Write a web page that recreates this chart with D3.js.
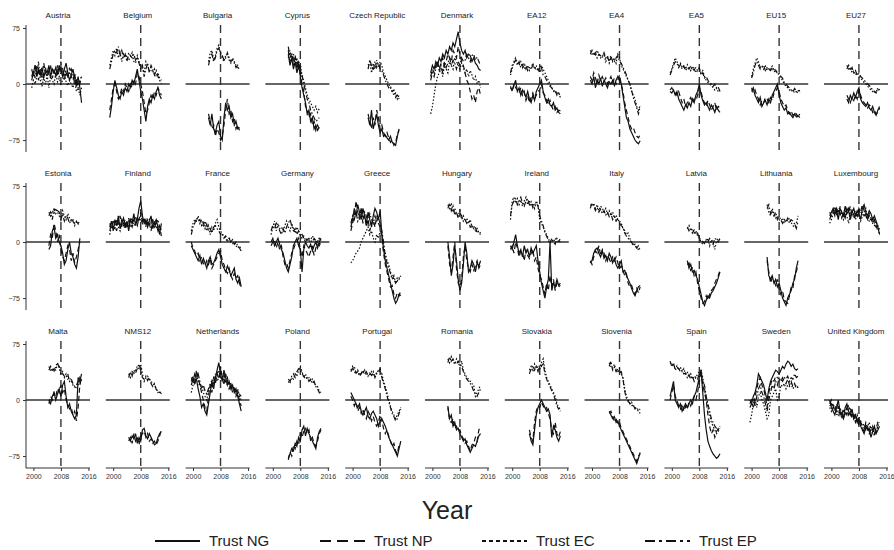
<!DOCTYPE html>
<html>
<head>
<meta charset="utf-8">
<script src="https://cdn.jsdelivr.net/npm/d3@7"></script>
<style>
  body { margin: 0; background: #fff; }
  svg { display: block; font-family: "Liberation Sans", Arial, sans-serif; }
</style>
</head>
<body>
<div id="chart-area"></div>
<script>
// panels, row by row
var countries = ["Austria", "Belgium", "Bulgaria", "Cyprus", "Czech Republic", "Denmark", "EA12", "EA4", "EA5", "EU15", "EU27",
  "Estonia", "Finland", "France", "Germany", "Greece", "Hungary", "Ireland", "Italy", "Latvia", "Lithuania", "Luxembourg",
  "Malta", "NMS12", "Netherlands", "Poland", "Portugal", "Romania", "Slovakia", "Slovenia", "Spain", "Sweden", "United Kingdom"];

// first observation of each panel, half-year steps after that
var startYear = [1999.5, 1999, 2004.5, 2004.5, 2004.5, 1999.5, 1999.5, 1999.5, 1999.5, 2000, 2004.5,
  2004.5, 1999, 1999.5, 1999.5, 1999.5, 2004.5, 1999.5, 1999.5, 2004.5, 2004.5, 1999.5,
  2004.5, 2004.5, 1999.5, 2004.5, 1999.5, 2004.5, 2005, 2005, 1999.5, 1999.5, 1999.5];

var trustNG = [
  [5,15,25,10,20,12,22,8,18,15,25,10,20,15,22,12,25,18,10,20,28,15,5,12,20,8,0,10,-5,-25],
  [-45,-30,-10,5,-5,-15,-20,-10,-15,-5,-10,0,-5,5,0,10,20,5,-10,-20,-35,-50,-30,-20,-25,-15,-20,-10,-5,-15,-20],
  [-45,-55,-40,-60,-65,-55,-50,-70,-75,-45,-25,-35,-30,-45,-40,-55,-50,-60,-58],
  [40,25,35,20,30,15,25,10,-5,-15,-25,-40,-35,-50,-45,-60,-55,-62,-58],
  [-45,-55,-35,-60,-50,-40,-55,-65,-60,-70,-68,-72,-75,-70,-78,-80,-82,-70,-60],
  [15,25,20,30,25,35,30,40,35,45,40,50,45,55,50,60,70,55,45,40,45,35,40,38,30,35,28,25,20,18],
  [-5,-8,-2,5,-10,-5,-15,-8,-12,-18,-10,-20,-25,-15,-22,-10,-5,0,5,-10,-18,-25,-20,-28,-30,-25,-35,-32,-38,-40],
  [5,0,10,-5,5,0,8,-3,5,0,-5,3,0,5,-2,5,10,5,0,-15,-30,-45,-50,-60,-65,-70,-75,-78,-80,-76],
  [-10,-12,-8,-15,-10,-20,-25,-30,-35,-28,-32,-25,-30,-20,-25,-15,-10,0,-15,-22,-28,-25,-30,-35,-28,-32,-38,-30,-35,-38],
  [-10,-5,-15,-20,-25,-18,-30,-25,-22,-28,-20,-25,-15,-10,-5,0,-15,-25,-30,-35,-32,-40,-38,-42,-45,-40,-44,-42,-45],
  [-20,-25,-15,-20,-12,-18,-10,-5,-20,-25,-28,-30,-25,-32,-35,-30,-38,-42,-35,-30],
  [-10,-5,15,20,5,10,0,-5,-15,-30,-25,-10,0,-15,-20,-30,-35,-20,5],
  [20,28,15,30,22,35,18,25,32,20,28,15,30,25,38,22,30,45,55,35,25,30,20,28,35,18,25,30,20,10,25],
  [-5,-10,-15,-20,-25,-18,-30,-22,-28,-35,-25,-20,-30,-28,-22,-15,-10,-20,-30,-35,-40,-32,-38,-45,-40,-35,-50,-55,-48,-60],
  [0,5,-5,0,5,-3,-10,-15,-25,-35,-40,-30,-20,-5,0,5,-5,-10,-40,-10,0,-5,-8,-3,-12,-5,0,-8,0,5],
  [20,30,45,35,50,40,30,45,35,25,40,30,20,35,45,40,30,42,10,-10,-25,-35,-45,-55,-65,-75,-82,-78,-70,-72],
  [0,-20,-45,-30,-5,-25,-50,-65,-55,-30,0,-15,-40,-35,-25,-30,-40,-28,-32,-25],
  [-5,-10,0,10,-5,-15,-10,-20,-5,-15,-10,-20,-8,-15,-10,-5,-25,-40,-55,-65,-75,-60,-50,0,-65,-55,-60,-50,-58,-55],
  [-28,-25,-15,-10,-8,-15,-20,-12,-22,-18,-25,-15,-20,-28,-22,-30,-35,-30,-25,-40,-38,-45,-50,-55,-62,-68,-72,-65,-60,-58],
  [-25,-35,-30,-40,-38,-45,-50,-60,-70,-80,-85,-78,-72,-75,-68,-65,-60,-55,-48,-40],
  [-20,-45,-50,-45,-55,-50,-60,-55,-65,-75,-80,-85,-75,-70,-65,-55,-50,-35,-25],
  [35,40,45,38,42,30,45,40,35,48,38,42,30,40,45,35,42,38,30,45,50,40,35,42,38,30,35,28,20,10],
  [0,-5,5,10,0,8,15,5,20,25,5,-10,-5,-15,-20,-25,-20,30,25,35],
  [-50,-55,-48,-52,-45,-58,-50,-55,-40,-38,-48,-52,-45,-50,-55,-60,-58,-50,-45,-42],
  [30,25,35,28,15,5,-10,-5,-15,-20,-5,10,25,15,30,40,50,35,25,40,30,20,25,15,20,10,15,5,-5,-15],
  [-78,-72,-65,-68,-58,-62,-50,-55,-40,-35,-48,-38,-45,-50,-55,-60,-65,-50,-42,-38],
  [10,5,0,-5,-10,-5,-15,-20,-15,-10,-22,-25,-18,-15,-20,-25,-35,-28,-25,-30,-35,-42,-50,-55,-60,-65,-70,-75,-65,-55],
  [-10,-25,-20,-35,-30,-40,-38,-45,-50,-55,-52,-60,-65,-70,-65,-60,-62,-55,-48,-45],
  [-45,-55,-60,-40,-20,-10,-5,0,-5,-10,-15,-12,-20,-50,-35,-40,-50,-55,-48],
  [-15,-20,-25,-22,-30,-28,-35,-40,-45,-50,-55,-60,-65,-70,-75,-80,-85,-78,-70],
  [5,15,25,0,-5,-10,-5,-15,-10,-5,-10,-5,0,-5,5,10,20,30,40,10,-20,-40,-55,-62,-68,-72,-75,-78,-76,-72],
  [0,-5,5,10,20,35,30,25,20,10,0,15,25,30,35,40,38,35,40,45,42,48,52,50,45,48,42,40,42],
  [0,-10,-15,-20,-10,0,-15,-20,-25,-10,-5,-15,-20,-12,-25,-20,-30,-25,-35,-40,-45,-35,-40,-38,-50,-42,-35,-45,-40,-35]
];

var trustNP = [
  [20,10,25,15,5,20,12,28,15,10,18,8,22,15,10,25,18,30,12,20,15,8,22,10,5,15,-5,5,0,10],
  [-35,-20,-5,0,-10,-20,-15,-5,-10,0,-5,-10,0,-5,5,0,15,10,0,-10,-25,-40,-35,-25,-15,-20,-10,-15,-5,-10,-15],
  [-40,-50,-60,-55,-70,-60,-65,-75,-70,-55,-35,-20,-40,-35,-50,-45,-60,-55,-62],
  [45,30,38,25,35,20,30,15,0,-10,-30,-35,-45,-40,-55,-50,-62,-55,-60],
  [-40,-50,-60,-45,-55,-35,-45,-60,-55,-65,-70,-65,-72,-78,-75,-82,-78,-68,-62],
  [10,20,15,25,30,20,28,35,25,30,40,35,30,45,40,35,50,40,30,25,15,5,0,-10,-20,-15,-25,-10,-5,-15],
  [-3,-10,0,-5,-8,-12,-5,-15,-10,-22,-15,-25,-18,-12,-20,-15,-10,-8,0,-12,-15,-22,-28,-22,-30,-35,-30,-38,-35,-36],
  [10,5,15,8,0,12,5,10,3,8,0,5,10,2,8,0,5,12,0,-10,-25,-35,-45,-55,-60,-58,-65,-70,-72,-68],
  [-8,-5,-10,-12,-15,-10,-18,-25,-20,-30,-25,-22,-18,-25,-20,-22,-15,-5,-10,-20,-25,-30,-22,-28,-35,-30,-25,-35,-30,-32],
  [-5,-12,-8,-15,-20,-28,-22,-25,-18,-20,-25,-18,-22,-12,-10,-5,-10,-20,-25,-30,-28,-35,-40,-36,-42,-38,-40,-45,-40],
  [-15,-20,-25,-18,-22,-15,-20,-8,-15,-22,-25,-28,-32,-28,-30,-38,-35,-40,-38,-32],
  [-5,10,5,25,15,0,10,-10,-20,-25,-15,-5,-10,-25,-15,-28,-20,-10,0],
  [25,18,30,22,15,28,35,20,25,30,18,32,25,20,28,35,25,30,40,28,32,22,30,25,15,28,20,25,15,22,8],
  [0,-8,-12,-18,-15,-25,-20,-28,-32,-25,-30,-22,-35,-30,-25,-20,-15,-12,-25,-30,-38,-42,-35,-45,-50,-42,-48,-45,-55,-62],
  [-5,0,3,-8,0,-10,-5,-20,-30,-28,-35,-25,-15,-10,-3,0,5,-10,-20,-5,-10,-15,-20,-12,-5,-18,-8,-3,-5,0],
  [15,25,35,55,40,30,45,25,35,20,30,15,25,30,20,35,25,20,5,-15,-30,-40,-50,-60,-58,-70,-75,-68,-72,-65],
  [-5,-30,-40,-20,0,-35,-55,-60,-50,-20,-5,-25,-35,-40,-30,-38,-32,-25,-35,-30],
  [-10,-5,-15,0,-8,-20,-12,-15,-25,-10,-18,-22,-15,-10,-25,-20,-35,-45,-50,-60,-70,-55,-65,-45,-60,-50,-65,-55,-60,-58],
  [-25,-30,-20,-12,-15,-5,-18,-10,-15,-25,-18,-22,-28,-20,-25,-20,-28,-35,-32,-38,-45,-42,-55,-60,-58,-65,-70,-62,-68,-60],
  [-30,-28,-38,-35,-45,-40,-55,-65,-75,-82,-80,-72,-78,-70,-65,-62,-55,-50,-45,-38],
  [-25,-40,-55,-48,-52,-58,-50,-62,-70,-65,-78,-80,-82,-72,-60,-62,-45,-40,-30],
  [40,35,42,48,36,45,38,32,40,35,45,40,48,35,38,42,35,45,40,50,42,35,30,38,32,25,30,22,15,12],
  [-5,5,0,10,5,15,10,20,10,15,0,-5,-12,-10,-20,-15,-28,-10,20,30],
  [-55,-50,-58,-45,-55,-50,-60,-48,-45,-42,-50,-45,-55,-52,-58,-55,-60,-55,-48,-40],
  [25,32,20,40,30,20,10,0,-10,-15,5,20,10,30,22,35,28,45,30,20,35,25,15,20,10,15,5,10,0,-8],
  [-80,-70,-75,-60,-65,-55,-60,-45,-50,-42,-38,-45,-40,-55,-50,-58,-62,-55,-45,-40],
  [5,0,-8,-3,-15,-10,-18,-12,-20,-25,-15,-20,-28,-22,-30,-35,-30,-20,-28,-38,-45,-40,-48,-55,-62,-58,-68,-72,-60,-58],
  [-8,-28,-30,-25,-38,-35,-42,-40,-48,-52,-58,-55,-62,-68,-60,-58,-50,-55,-40,-35],
  [-40,-50,-55,-30,-15,-8,-10,-3,-8,-12,-10,-18,-25,-40,-45,-30,-45,-50,-42],
  [-18,-15,-22,-28,-25,-32,-30,-38,-42,-48,-52,-58,-62,-68,-72,-78,-82,-75,-72],
  [0,10,20,5,0,-8,-12,-5,-15,-8,-12,-3,-8,0,5,0,10,25,35,20,10,0,-20,-35,-45,-40,-50,-42,-38,-40],
  [-5,0,-10,5,15,25,30,20,15,5,-10,10,20,28,25,32,30,28,25,30,25,22,28,20,25,18,22,15,18],
  [-5,0,-8,-15,-5,-10,-20,-15,-25,-18,-10,-20,-15,-25,-20,-30,-25,-35,-30,-38,-42,-30,-35,-45,-40,-35,-45,-38,-30,-32]
];

var trustEC = [
  [-5,5,0,10,30,5,-3,8,0,12,-5,10,5,0,15,3,8,0,5,12,3,-2,5,0,-5,5,-10,-5,-15,-5],
  [25,35,45,38,48,35,42,30,40,35,38,32,36,42,30,28,38,30,25,20,15,30,25,18,22,15,20,10,15,8,5],
  [30,42,45,32,38,48,52,40,35,30,38,40,32,28,35,30,25,22,20],
  [35,45,30,40,25,35,20,28,10,5,-5,-15,-20,-25,-30,-35,-30,-38,-33],
  [25,30,15,28,20,32,22,30,25,15,10,5,0,-5,-10,-15,-12,-20,-15],
  [-40,-30,-15,0,10,15,20,10,25,20,15,30,25,20,35,30,25,20,28,22,15,20,10,18,12,5,10,0,5,-5],
  [12,20,30,35,28,25,30,22,28,20,25,18,22,28,20,25,18,22,25,20,15,10,5,0,-5,-8,-12,-10,-15,-12],
  [45,40,42,38,45,40,35,38,40,30,35,32,38,30,35,28,40,35,25,20,15,10,5,0,-10,-15,-20,-30,-35,-28],
  [15,20,28,35,30,25,28,22,25,20,26,22,18,24,20,22,18,20,15,18,10,5,2,0,-2,-5,-8,-5,-10,-8],
  [10,20,28,35,30,22,25,20,24,18,22,20,24,18,20,15,12,8,5,0,-3,-5,-8,-10,-8,-12,-10,-8,-12],
  [25,20,22,15,18,12,15,10,8,5,2,0,-3,-5,-8,-10,-12,-8,-10,-6],
  [40,35,42,38,45,40,35,30,42,35,30,38,32,28,30,25,28,24,26],
  [10,22,18,25,30,20,15,28,22,18,25,20,28,32,22,25,30,28,35,30,25,28,22,30,25,20,28,18,22,15,18],
  [15,25,30,28,35,25,30,20,28,15,22,10,20,15,25,30,20,15,10,8,5,0,5,3,-2,0,-5,-8,-5,-10],
  [10,20,28,15,25,18,20,15,22,28,20,15,25,18,12,20,15,10,5,8,2,5,0,3,8,5,0,3,-2,2],
  [-28,-25,-20,-15,-12,-8,0,5,10,15,20,10,15,5,0,10,5,15,10,-5,-15,-25,-30,-40,-45,-50,-55,-48,-50,-45],
  [50,45,52,40,45,38,35,42,30,35,28,32,25,30,20,22,15,18,12,10],
  [30,55,60,52,58,50,56,48,55,60,50,55,48,52,45,55,50,30,25,20,15,10,5,0,3,0,5,2,0,5],
  [50,48,52,45,50,42,48,45,40,45,38,42,35,40,32,36,30,28,25,18,15,10,12,5,0,-2,-5,-8,-10,-8],
  [18,22,15,18,12,15,8,5,0,-3,2,0,5,-5,3,0,-10,2,5,3],
  [50,40,35,45,38,32,35,30,28,32,25,30,28,32,26,22,20,25,35],
  [25,30,38,42,35,40,48,35,30,42,35,25,38,42,35,30,40,35,28,35,40,45,32,28,30,25,22,28,20,18],
  [45,40,42,38,45,50,42,35,38,30,35,28,30,25,20,18,15,20,30,25],
  [35,30,38,35,40,45,42,48,35,25,30,32,28,25,22,20,15,12,10,12],
  [10,20,28,35,25,18,20,10,5,0,12,18,28,20,35,25,30,38,32,25,28,20,22,15,18,12,8,15,5,0],
  [25,22,30,28,35,32,40,45,38,30,35,28,30,25,28,22,20,18,12,10],
  [40,45,38,35,40,33,38,35,40,33,36,34,38,32,36,35,40,38,35,25,18,10,0,-8,-15,-20,-25,-20,-15,-10],
  [55,50,58,52,48,55,50,45,52,40,35,30,28,25,22,20,5,10,15,20],
  [40,45,38,48,42,45,40,50,55,40,30,25,20,15,10,5,-5,-10,-15],
  [50,45,42,48,40,38,42,35,30,15,5,0,-5,-3,-8,-10,-12,-15,-18],
  [50,48,45,42,46,40,44,38,42,35,38,30,35,28,32,30,35,38,40,30,15,0,-10,-20,-30,-35,-40,-45,-42,-38],
  [-30,-20,-5,0,-10,5,10,0,-5,-15,-25,-20,0,5,10,15,0,5,20,18,22,15,20,18,22,15,18,20,16],
  [-10,-15,-5,-12,-20,-8,-12,-25,-15,-20,-12,-8,-15,-22,-18,-28,-20,-30,-28,-35,-32,-40,-35,-30,-40,-45,-38,-42,-35,-30]
];

var trustEP = [
  [10,18,8,25,15,20,5,15,22,10,15,25,8,18,12,20,10,15,22,5,18,10,15,20,12,0,5,-5,5,10],
  [20,30,40,45,42,50,38,45,35,40,30,42,38,35,40,32,35,28,20,25,10,20,28,15,25,20,12,18,10,5,0],
  [25,35,40,30,35,45,48,42,38,32,35,42,35,30,32,28,22,25,18],
  [50,35,42,30,38,25,32,20,12,0,-10,-20,-25,-35,-40,-45,-50,-48,-45],
  [20,32,25,18,30,22,28,20,18,12,5,0,-5,-3,-10,-8,-18,-15,-20],
  [5,15,10,20,28,18,25,15,30,22,28,35,25,32,28,20,30,25,35,30,32,40,35,30,38,40,32,36,30,25],
  [15,25,28,32,25,30,22,26,20,24,18,22,20,25,22,18,20,15,22,12,10,5,0,-3,-5,-10,-8,-15,-12,-18],
  [40,45,38,42,35,40,38,35,42,35,38,28,35,32,30,35,38,30,28,22,18,12,5,0,-8,-18,-25,-32,-40,-30],
  [12,18,25,30,28,22,26,20,24,18,22,20,24,18,20,15,18,22,12,15,8,10,5,2,0,-3,0,-6,-4,-10],
  [8,15,25,30,25,20,22,25,18,22,20,18,22,16,18,14,15,10,8,2,0,-3,-5,-8,-10,-6,-10,-12,-8],
  [20,25,18,22,15,18,12,15,10,8,5,3,0,-2,-5,-8,-10,-12,-5,-8],
  [35,40,30,45,38,42,40,30,38,28,35,32,25,30,28,22,27,25,28],
  [15,25,20,18,28,25,22,30,20,25,22,28,20,25,30,28,22,32,30,25,32,20,26,22,28,30,22,26,30,20,15],
  [10,20,25,32,28,30,22,26,18,24,15,18,12,20,22,18,15,10,12,5,8,2,5,0,3,-3,0,-5,-8,-12],
  [15,22,18,25,20,15,10,18,12,20,25,30,22,15,18,10,15,8,10,5,0,3,5,2,0,5,2,0,5,3],
  [25,35,30,40,28,35,45,30,40,35,28,38,30,25,35,28,32,25,15,0,-20,-28,-35,-42,-50,-45,-55,-52,-48,-50],
  [45,52,42,48,36,40,32,38,35,28,30,25,28,20,22,18,20,12,15,12],
  [35,50,55,58,50,55,60,52,48,55,58,50,54,46,50,52,48,35,28,22,12,8,2,-2,5,0,-3,5,2,0],
  [45,52,48,42,46,40,44,38,42,36,40,34,38,30,34,28,32,25,22,20,12,8,5,2,0,-5,-3,-8,-5,-12],
  [20,15,18,12,16,10,12,5,3,0,-2,3,0,5,2,-3,5,3,0,5],
  [45,50,38,42,35,40,30,34,30,25,30,27,32,25,30,28,24,18,28],
  [30,38,42,35,45,40,35,42,38,32,40,45,35,40,32,38,35,42,38,40,35,38,30,35,28,32,25,20,22,15],
  [40,45,38,42,40,48,45,38,35,32,30,35,25,28,22,18,20,25,22,28],
  [30,38,32,40,36,42,48,40,30,28,32,26,30,22,18,22,14,10,12,8],
  [20,28,22,30,35,25,15,20,12,8,15,22,18,30,25,35,40,30,28,35,25,30,20,22,15,18,10,12,8,5],
  [28,25,32,35,30,38,42,40,35,32,28,30,25,28,22,25,18,15,10,8],
  [38,42,45,36,38,32,35,40,35,38,32,36,33,38,30,36,38,42,30,22,15,5,-2,-10,-18,-22,-28,-25,-18,-12],
  [50,58,52,55,50,48,52,48,45,38,32,28,25,22,18,12,8,5,10,15],
  [35,42,46,40,45,38,48,45,50,35,28,22,18,12,8,0,-8,-12,-10],
  [45,52,40,44,38,42,36,38,28,12,2,-2,-4,-8,-6,-12,-10,-14,-12],
  [52,45,50,40,44,42,38,40,35,36,30,34,28,32,25,30,28,35,38,25,20,5,-5,-15,-25,-30,-35,-38,-40,-35],
  [-10,-5,0,-8,5,15,20,10,5,-5,-15,0,10,20,15,25,20,30,28,25,30,28,32,25,30,28,35,30,32],
  [-8,-5,-12,-10,-15,-20,-10,-18,-12,-15,-20,-10,-12,-18,-25,-20,-28,-22,-30,-35,-40,-32,-38,-42,-35,-40,-48,-40,-36,-38]
];

var seriesNames = ["Trust NG", "Trust NP", "Trust EC", "Trust EP"];
var yTicks = [-75, 0, 75];
var xTicks = [2000, 2008, 2016];
var breakYear = 2008;

var width = 894, height = 550;
var panelW = 64, panelH = 127, colStep = 79.8, left = 26;
var rowTops = [25, 183, 341];
var dashes = [null, "5,3", "1.5,1.8", "5,2,1.5,2"];

var svg = d3.select("#chart-area").append("svg")
    .attr("width", width)
    .attr("height", height);

var x = d3.scaleLinear().domain([1997.85, 2016.45]).range([0, panelW]);
var y = d3.scaleLinear().domain([-91, 79]).range([panelH, 0]);

var allSeries = [trustNG, trustNP, trustEC, trustEP];

countries.forEach(function (name, i) {
    var row = Math.floor(i / 11), col = i % 11;
    var g = svg.append("g")
        .attr("transform", "translate(" + (left + col * colStep) + "," + rowTops[row] + ")");

    g.append("text")
        .attr("x", panelW / 2)
        .attr("y", -7)
        .attr("text-anchor", "middle")
        .attr("font-size", "8px")
        .attr("fill", "#222")
        .text(name);

    // zero line and the 2008 marker
    g.append("line")
        .attr("x1", 0).attr("x2", panelW)
        .attr("y1", y(0)).attr("y2", y(0))
        .attr("stroke", "#333").attr("stroke-width", 1.3);
    g.append("line")
        .attr("x1", x(breakYear)).attr("x2", x(breakYear))
        .attr("y1", 0).attr("y2", panelH)
        .attr("stroke", "#333").attr("stroke-width", 1.4)
        .attr("stroke-dasharray", "8,5");

    allSeries.forEach(function (s, k) {
        var pts = s[i].map(function (v, j) { return [startYear[i] + j * 0.5, v]; });
        var line = d3.line()
            .x(function (d) { return x(d[0]); })
            .y(function (d) { return y(d[1]); });
        g.append("path")
            .datum(pts)
            .attr("d", line)
            .attr("fill", "none")
            .attr("stroke", "#111")
            .attr("stroke-width", 1.2)
            .attr("stroke-dasharray", dashes[k]);
    });

    if (col === 0) {
        var ya = g.append("g")
            .call(d3.axisLeft(y).tickValues(yTicks).tickSize(3).tickSizeOuter(0));
        ya.select(".domain").attr("d", "M0,0V" + panelH).attr("stroke", "#333");
        ya.selectAll("text").attr("font-size", "7px").attr("fill", "#333");
        ya.selectAll(".tick line").attr("stroke", "#333");
    }
    if (row === 2) {
        var xa = g.append("g")
            .attr("transform", "translate(0," + panelH + ")")
            .call(d3.axisBottom(x).tickValues(xTicks).tickFormat(d3.format("d")).tickSize(3).tickSizeOuter(0));
        xa.select(".domain").attr("d", "M0,0H" + panelW).attr("stroke", "#333");
        xa.selectAll("text").attr("font-size", "7px").attr("fill", "#333");
        xa.selectAll(".tick line").attr("stroke", "#333");
    }
});

svg.append("text")
    .attr("x", 447)
    .attr("y", 519)
    .attr("text-anchor", "middle")
    .attr("font-size", "25px")
    .attr("fill", "#222")
    .text("Year");

// legend
var legendX = [155, 320, 482, 645];
var legendDash = [null, "11,6", "4,3", "10,4,3,4"];
seriesNames.forEach(function (n, k) {
    var lg = svg.append("g").attr("transform", "translate(" + legendX[k] + ",541)");
    lg.append("line")
        .attr("x1", 0).attr("x2", 45)
        .attr("stroke", "#111").attr("stroke-width", 2)
        .attr("stroke-dasharray", legendDash[k]);
    lg.append("text")
        .attr("x", 54).attr("y", 5)
        .attr("font-size", "15px")
        .attr("fill", "#222")
        .text(n);
});
</script>
</body>
</html>
